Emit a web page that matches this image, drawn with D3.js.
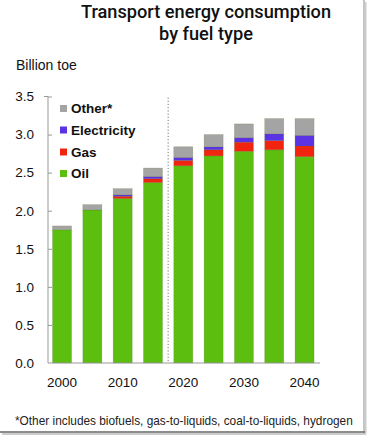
<!DOCTYPE html>
<html><head><meta charset="utf-8">
<script src="https://cdn.jsdelivr.net/npm/d3@7"></script>
<style>
body{margin:0;background:#fff;}
svg{display:block;font-family:"Liberation Sans",Arial,sans-serif;}
</style></head>
<body><svg id="c" width="369" height="437"></svg>
<script>
const years = ["2000","2005","2010","2015","2020","2025","2030","2035","2040"];
const oil   = [1.75, 2.01, 2.16, 2.37, 2.59, 2.72, 2.78, 2.80, 2.71];
const gas   = [0.00, 0.00, 0.03, 0.05, 0.07, 0.08, 0.12, 0.12, 0.14];
const elec  = [0.00, 0.00, 0.02, 0.03, 0.04, 0.04, 0.06, 0.09, 0.14];
const other = [0.05, 0.07, 0.08, 0.11, 0.14, 0.16, 0.18, 0.20, 0.22];
const seriesNames = ["Oil","Gas","Electricity","Other*"];
const yTicks = [0,0.5,1,1.5,2,2.5,3,3.5];
const xLabels = ["2000","2010","2020","2030","2040"];
const titleLines = ["Transport energy consumption","by fuel type"];
const colors = {"Oil":"#5cbe0e","Gas":"#f1250f","Electricity":"#5b33e4","Other*":"#a4a4a4"};

const svg = d3.select("#c");
const x = d3.scaleBand().domain(years).range([48, 318.6]).paddingInner(0.373).paddingOuter(0.15);
const y = d3.scaleLinear().domain([0,3.5]).range([363, 96.5]);

const table = years.map((yr,i)=>({year:yr,"Oil":oil[i],"Gas":gas[i],"Electricity":elec[i],"Other*":other[i]}));
const stack = d3.stack().keys(seriesNames)(table);

// frame
svg.append("line").attr("x1",364).attr("x2",364).attr("y1",0).attr("y2",433).attr("stroke","#888").attr("stroke-width",1);
svg.append("line").attr("x1",365.5).attr("x2",365.5).attr("y1",2).attr("y2",434).attr("stroke","#ccc").attr("stroke-width",2);
svg.append("line").attr("x1",0).attr("x2",365).attr("y1",432).attr("y2",432).attr("stroke","#666").attr("stroke-width",1.5);
svg.append("line").attr("x1",2).attr("x2",366).attr("y1",434).attr("y2",434).attr("stroke","#ccc").attr("stroke-width",2);

// title
const tfsBase = 19;
const tl = svg.append("g").selectAll("text").data(titleLines).join("text")
  .attr("x",206).attr("y",(d,i)=>i===0?18:40).attr("text-anchor","middle")
  .attr("font-family","Roboto, Liberation Sans, sans-serif")
  .attr("font-size",tfsBase).attr("font-weight",500).attr("fill","#111").text(d=>d);
{
  const w = tl.nodes()[0].getComputedTextLength();
  tl.attr("font-size", Math.min(18.2, tfsBase*258/w));
}
function fit(sel, w){ const cur = sel.node().getComputedTextLength(); const fs = +sel.attr("font-size"); sel.attr("font-size", fs*w/cur); return fs*w/cur; }

svg.append("text").attr("x",16).attr("y",70).attr("font-size",14).attr("fill","#111").text("Billion toe");

// bars
svg.append("g").selectAll("g").data(stack).join("g").attr("fill",d=>colors[d.key])
  .selectAll("rect").data(d=>d).join("rect")
  .attr("x",d=>x(d.data.year)).attr("width",x.bandwidth())
  .attr("y",d=>y(d[1])).attr("height",d=>Math.max(0,y(d[0])-y(d[1])))
  .attr("stroke","rgba(90,110,40,0.35)").attr("stroke-width",d=>(d[1]-d[0])>0?0.6:0);

// divider
const xd = x("2015")+x.bandwidth()+(x.step()-x.bandwidth())/2;
svg.append("line").attr("x1",xd).attr("x2",xd).attr("y1",y(3.5)+1).attr("y2",y(0))
  .attr("stroke","#777").attr("stroke-width",1).attr("stroke-dasharray","1.2,2");

// y axis
const ya = svg.append("g").attr("transform","translate(48,0)")
  .call(d3.axisLeft(y).tickValues(yTicks).tickFormat(d3.format(".1f")).tickSize(-4).tickPadding(14));
ya.select(".domain").attr("stroke","#999").attr("d","M-4,"+y(3.5)+"H0V"+y(0));
ya.selectAll(".tick line").attr("stroke","#999");
ya.selectAll(".tick text").attr("font-size",13.5).attr("fill","#111").attr("font-family","Liberation Sans, Arial, sans-serif");
ya.selectAll(".tick").filter(d=>d===0).select("line").remove();

// x axis
const xa = svg.append("g").attr("transform","translate(0,363)")
  .call(d3.axisBottom(x).tickValues(xLabels).tickSize(0).tickPadding(14));
xa.select(".domain").attr("stroke","#999").attr("d","M48,0H320");
xa.selectAll(".tick text").attr("font-size",13.5).attr("fill","#111").attr("font-family","Liberation Sans, Arial, sans-serif");

// legend
const legY = {"Other*":108.5,"Electricity":130,"Gas":152,"Oil":173.5};
const leg = svg.append("g").selectAll("g").data(seriesNames.slice().reverse()).join("g")
  .attr("transform",d=>`translate(60,${legY[d]})`);
leg.append("rect").attr("x",0).attr("y",-3.5).attr("width",7).attr("height",7).attr("fill",d=>colors[d]);
leg.append("text").attr("x",11).attr("y",0).attr("dy","0.35em").attr("font-size",13.5).attr("font-weight","bold")
  .attr("fill","#111").text(d=>d);

// footnote
const fn = svg.append("text").attr("x",15).attr("y",424.5).attr("font-size",12).attr("fill","#222")
  .text("*Other includes biofuels, gas-to-liquids, coal-to-liquids, hydrogen");
fit(fn, 338);
</script></body></html>
